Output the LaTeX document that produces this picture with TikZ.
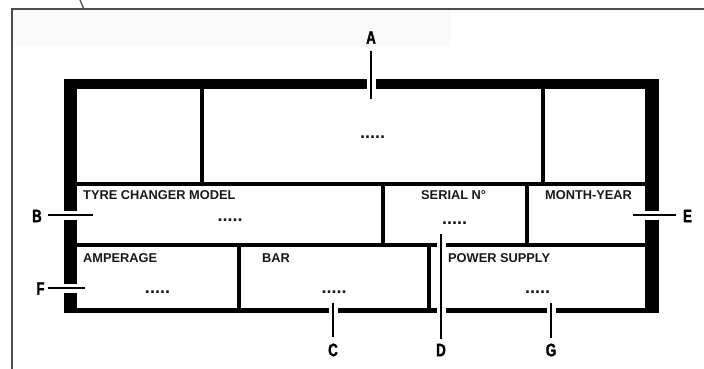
\documentclass[tikz,border=0pt]{standalone}
\usepackage{fontspec}
\setmainfont{Liberation Sans}
\newfontfamily\condfont[FakeStretch=0.74,FakeBold=1.6]{Liberation Sans}
\definecolor{edge}{HTML}{4D4D4D}
\definecolor{paper}{HTML}{FAFAFA}
\begin{document}
\begin{tikzpicture}[x=1pt,y=-1pt,
  cell/.style={fill=white,draw=none,inner sep=0pt,rectangle},
  title/.style={font=\fontsize{12.8}{13}\selectfont\bfseries,inner sep=0pt,anchor=base west,text=black!90},
  dots/.style={font=\fontsize{18}{18}\selectfont\bfseries,inner sep=0pt,anchor=base,text=black!90},
  lbl/.style={font=\condfont\fontsize{18}{18}\selectfont\bfseries,inner sep=0pt},
  leader/.style={draw=black,line width=2pt,preaction={draw=white,line width=9pt}},
  sheet/.style={draw=edge,line width=1.3pt}]
\useasboundingbox (0,0) rectangle (704,369);
% sheet background
\fill[paper] (12,9) rectangle (451,47);
\draw[sheet] (12,369) -- (12,9) -- (704,9);
\draw[sheet] (80,0) -- (84,9);
% frame
\node[fill=black,inner sep=0pt,minimum width=595pt,minimum height=234pt] (frame) at (361.5,196) {};
% row 1
\node[cell,minimum width=123pt,minimum height=93pt] (r1a) at (138.5,135.5) {};
\node[cell,minimum width=337pt,minimum height=93pt] (r1b) at (372.5,135.5) {};
\node[cell,minimum width=100pt,minimum height=93pt] (r1c) at (595,135.5) {};
% row 2
\node[cell,minimum width=303.5pt,minimum height=57pt] (r2a) at (228.75,214.5) {};
\node[cell,minimum width=140.5pt,minimum height=57pt] (r2b) at (454.75,214.5) {};
\node[cell,minimum width=116.5pt,minimum height=57pt] (r2c) at (586.75,214.5) {};
% row 3
\node[cell,minimum width=160pt,minimum height=61pt] (r3a) at (157,277.5) {};
\node[cell,minimum width=186pt,minimum height=61pt] (r3b) at (334,277.5) {};
\node[cell,minimum width=214pt,minimum height=61pt] (r3c) at (538,277.5) {};
% titles
\node[title] (tmodel) at (83,199) {TYRE CHANGER MODEL};
\node[title] (tserial) at (421,199) {SERIAL N°};
\node[title] (tmonth) at (545,199) {MONTH-YEAR};
\node[title] (tamp) at (83,262) {AMPERAGE};
\node[title] (tbar) at (262,262) {BAR};
\node[title] (tpower) at (448,262) {POWER SUPPLY};
% dots
\node[dots] (dA) at (372.5,138) {.....};
\node[dots] (dB) at (230,221) {.....};
\node[dots] (dD) at (454.5,224) {.....};
\node[dots] (dF) at (157.5,293) {.....};
\node[dots] (dC) at (334,293) {.....};
\node[dots] (dG) at (537.5,293) {.....};
% labels
\node[lbl] (A) at (371,37.5) {A};
\node[lbl] (B) at (37,216) {B};
\node[lbl] (E) at (687.5,216) {E};
\node[lbl] (F) at (40.5,288.5) {F};
\node[lbl] (C) at (333,350) {C};
\node[lbl] (D) at (441,350) {D};
\node[lbl] (G) at (551,350) {G};
% leader end points
\coordinate (eA) at (371,99);
\coordinate (eB) at (93,215);
\coordinate (eE) at (633,215);
\coordinate (eF) at (85,288);
\coordinate (eC) at (333,303);
\coordinate (eD) at (441,234);
\coordinate (eG) at (551,303);
% leaders
\draw[leader,shorten <=7pt] (A) -- (eA);
\draw[leader,shorten <=6pt] (B.east |- eB) -- (eB);
\draw[leader,shorten <=7pt] (E.west |- eE) -- (eE);
\draw[leader,shorten <=3pt] (F.east |- eF) -- (eF);
\draw[leader,shorten <=6pt] (C) -- (eC);
\draw[leader,shorten <=5pt] (D) -- (eD);
\draw[leader,shorten <=5pt] (G) -- (eG);
\end{tikzpicture}
\end{document}
